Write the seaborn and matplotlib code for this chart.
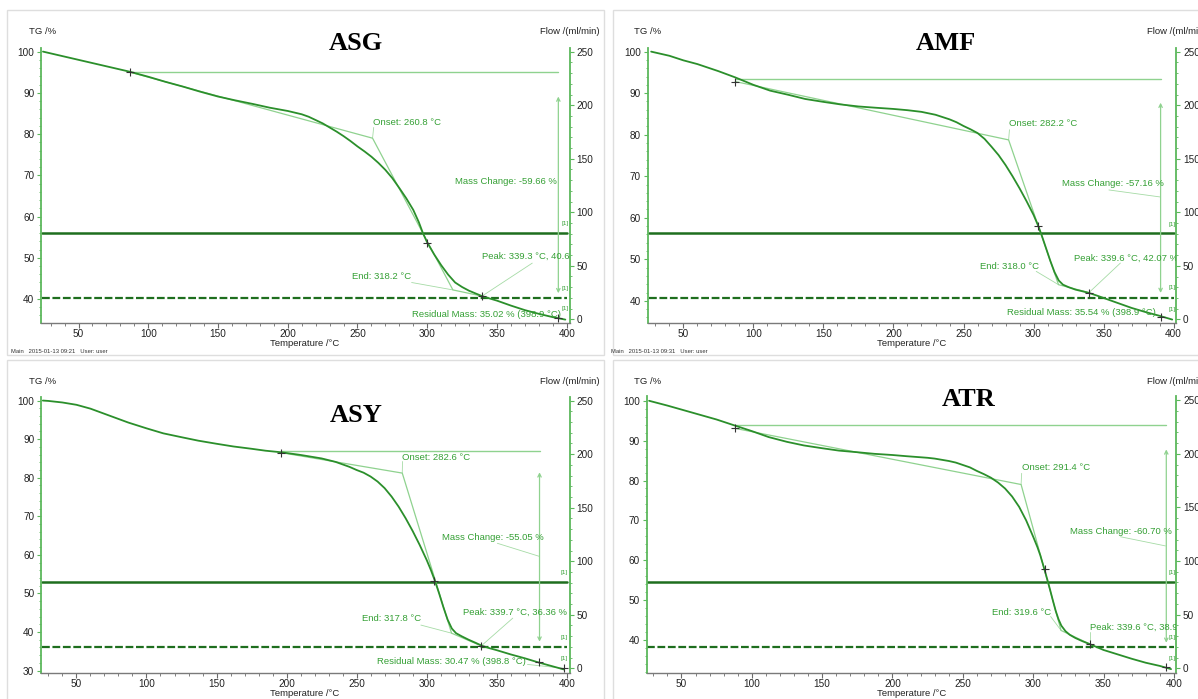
import matplotlib
matplotlib.use("Agg")
import matplotlib.pyplot as plt
from matplotlib.patches import Rectangle
from matplotlib.ticker import MultipleLocator
import seaborn as sns

sns.set_theme(style="white")
plt.rcParams['font.family'] = ['Liberation Sans', 'DejaVu Sans']

W, H = 1198, 699

# ---------------- data ----------------
# ASG
asg_temp = [24.5, 50, 87, 100, 112, 125, 137, 150, 162, 175, 187, 200, 205, 210, 215, 220, 225, 230,
            235, 240, 245, 250, 255, 260, 265, 270, 275, 280, 285, 290, 294, 297, 300, 305, 310, 315,
            320, 325, 330, 335, 339.3, 345, 350, 360, 370, 380, 390, 399]
asg_tg = [100, 98.0, 95.1, 93.9, 92.7, 91.5, 90.3, 89.1, 88.2, 87.3, 86.4, 85.6, 85.2, 84.8, 84.2, 83.4,
          82.6, 81.6, 80.6, 79.5, 78.3, 77.0, 75.8, 74.5, 73.0, 71.3, 69.3, 66.9, 64.4, 61.6, 58.6, 55.9,
          53.7, 50.8, 48.2, 45.9, 44.0, 42.9, 42.0, 41.3, 40.7, 40.1, 39.6, 38.4, 37.3, 36.4, 35.6, 35.0]
asg_flow = [80.9, 20.2]
asg_marks_t = [87, 300, 339.3, 394]
asg_marks_tg = [95.0, 53.7, 40.7, 35.3]
asg_onset = [260.8, 79.0]
asg_end = [318.4, 42.2]
asg_step = [95.1, 394, 89.1, 41.4]      # level, arrow T, arrow top, arrow bottom
asg_labels = ["Onset: 260.8 °C", "Mass Change: -59.66 %", "End: 318.2 °C",
              "Peak: 339.3 °C, 40.62 %", "Residual Mass: 35.02 % (398.9 °C)"]

# AMF
amf_temp = [27, 40, 50, 60, 75, 87, 100, 112, 125, 137, 150, 162, 175, 187, 200, 210, 220, 230, 240,
            245, 250, 255, 260, 265, 270, 275, 280, 285, 290, 295, 300, 303.3, 306, 309, 312, 315, 318,
            321, 325, 330, 335, 339.6, 345, 350, 360, 370, 380, 390, 399]
amf_tg = [100, 99.0, 97.9, 97.0, 95.3, 93.8, 92.0, 90.6, 89.6, 88.6, 87.9, 87.3, 86.8, 86.5, 86.2, 85.9,
          85.5, 84.8, 83.7, 83.0, 82.1, 81.3, 80.4, 79.0, 77.1, 75.1, 72.7, 70.0, 67.1, 64.0, 60.7, 58.1,
          55.6, 52.6, 49.6, 46.9, 44.9, 43.9, 43.3, 42.7, 42.3, 41.9, 41.3, 40.7, 39.5, 38.3, 37.3, 36.4, 35.5]
amf_flow = [80.3, 19.6]
amf_marks_t = [87, 303.3, 339.6, 390.7]
amf_marks_tg = [92.8, 58.1, 42.0, 36.2]
amf_onset = [282.2, 78.75]
amf_end = [317.8, 43.9]
amf_step = [93.5, 390.7, 87.7, 41.9]
amf_labels = ["Onset: 282.2 °C", "Mass Change: -57.16 %", "End: 318.0 °C",
              "Peak: 339.6 °C, 42.07 %", "Residual Mass: 35.54 % (398.9 °C)"]

# ASY
asy_temp = [26, 30, 40, 50, 60, 75, 87, 100, 112, 125, 137, 150, 162, 175, 185, 196, 210, 225, 235, 245,
            250, 255, 260, 265, 270, 275, 280, 285, 290, 295, 300, 303, 306, 309, 312, 315, 318, 321,
            325, 330, 335, 339.7, 345, 350, 360, 370, 380, 390, 398]
asy_tg = [100, 99.9, 99.5, 98.9, 97.9, 95.9, 94.3, 92.8, 91.5, 90.5, 89.6, 88.8, 88.1, 87.5, 87.0, 86.6,
          85.9, 85.0, 84.1, 82.8, 82.0, 81.3, 80.3, 79.0, 77.3, 75.1, 72.5, 69.5, 66.2, 62.6, 58.7, 56.1,
          53.2, 49.9, 46.4, 43.2, 40.9, 39.7, 38.9, 38.0, 37.2, 36.4, 35.8, 35.3, 34.2, 33.2, 32.1, 31.1, 30.3]
asy_flow = [80.2, 20.0]
asy_marks_t = [196, 305.5, 339.0, 380, 397.8]
asy_marks_tg = [86.5, 53.3, 36.4, 32.1, 30.6]
asy_onset = [282.6, 81.2]
asy_end = [317.8, 39.7]
asy_step = [87.0, 380.6, 81.4, 37.5]
asy_labels = ["Onset: 282.6 °C", "Mass Change: -55.05 %", "End: 317.8 °C",
              "Peak: 339.7 °C, 36.36 %", "Residual Mass: 30.47 % (398.8 °C)"]

# ATR
atr_temp = [27, 40, 50, 62, 75, 87, 100, 112, 125, 137, 150, 162, 175, 187, 200, 210, 225, 230, 240,
            245, 250, 255, 260, 265, 270, 275, 280, 285, 290, 295, 300, 303, 305, 308, 310, 312, 314,
            316, 318, 320, 323, 326, 330, 335, 340, 350, 360, 370, 380, 390, 398]
atr_tg = [100, 98.8, 97.8, 96.6, 95.3, 93.9, 92.4, 90.9, 89.7, 88.8, 88.1, 87.5, 87.1, 86.7, 86.4, 86.1,
          85.7, 85.5, 84.9, 84.5, 83.9, 83.3, 82.4, 81.6, 80.7, 79.5, 78.0, 76.0, 73.4, 70.0, 65.9, 63.3,
          61.3, 57.7, 55.2, 52.6, 49.9, 47.3, 45.2, 43.6, 42.2, 41.3, 40.5, 39.7, 39.0, 37.5, 36.4, 35.3,
          34.3, 33.5, 32.7]
atr_flow = [80.2, 19.6]
atr_marks_t = [87.8, 308.1, 340.2, 394.6]
atr_marks_tg = [93.1, 57.7, 39.0, 33.2]
atr_onset = [291.4, 79.0]
atr_end = [319.8, 42.4]
atr_step = [93.9, 394.6, 87.8, 39.3]
atr_labels = ["Onset: 291.4 °C", "Mass Change: -60.70 %", "End: 319.6 °C",
              "Peak: 339.6 °C, 38.93 %", None]

titles = ["ASG", "AMF", "ASY", "ATR"]
stamps = ["Main   2015-01-13 09:21   User: user", "Main   2015-01-13 09:31   User: user", None, None]

# ---------------- styling ----------------
curve_c = "#2b8f2b"
flow_c = "#1e6e1e"
light_c = "#8fd28f"
text_c = "#35a035"
spine_c = "#5cb85c"
mark_c = "#333333"


def px_rect(l, r, t, b):
    return [l / W, 1 - b / H, (r - l) / W, (b - t) / H]


fig = plt.figure(figsize=(W / 100, H / 100), dpi=100)
fig.patch.set_facecolor("white")

# screenshot frames
for (l, t, r, b) in [(7, 10, 604, 355), (613, 10, 1230, 355), (7, 360, 604, 720), (613, 360, 1230, 720)]:
    fig.patches.append(Rectangle((l / W, 1 - b / H), (r - l) / W, (b - t) / H, transform=fig.transFigure,
                                 fill=False, edgecolor="#dedede", linewidth=1.0))

panels = [
    dict(rect=px_rect(41.3, 569.5, 48.3, 322.7), xlim=(23.3, 402), tglim=(34.25, 100.8), flowlim=(-3.2, 253.2),
         ymin=40, temp=asg_temp, tg=asg_tg, flow=asg_flow, mt=asg_marks_t, mtg=asg_marks_tg,
         onset=asg_onset, end=asg_end, step=asg_step, labels=asg_labels,
         pos=[(261.4, 82.9, "left"), (393, 68.5, "right"), (288.8, 45.4, "right"), (339.0, 50.3, "left"),
              (288.8, 36.3, "left")],
         leaders=[((260.8, 79.0), (261.6, 81.6)), ((288.8, 44.0), (318.4, 42.2)), ((339.3, 40.7), (375.3, 48.7))],
         tags=[(398.6, 58.4), (398.6, 42.6), (398.6, 37.8)],
         title=(356, 43), tg_lab=(29, 31), flow_lab=(540, 31), xlab=(305, 342), stamp=(11, 351)),
    dict(rect=px_rect(647.8, 1176, 48.3, 323.3), xlim=(24.6, 401.7), tglim=(34.6, 100.8), flowlim=(-3.7, 253.2),
         ymin=40, temp=amf_temp, tg=amf_tg, flow=amf_flow, mt=amf_marks_t, mtg=amf_marks_tg,
         onset=amf_onset, end=amf_end, step=amf_step, labels=amf_labels,
         pos=[(282.8, 82.6, "left"), (393.4, 68.2, "right"), (304.1, 48.3, "right"), (329.2, 50.3, "left"),
              (280.9, 37.2, "left")],
         leaders=[((282.2, 78.75), (282.8, 81.2)), ((353.8, 66.7), (390.7, 65.0)),
                  ((301.9, 47.1), (317.8, 43.9)), ((339.6, 42.0), (362.0, 49.1))],
         tags=[(398.9, 58.5), (398.9, 43.1), (398.9, 37.9)],
         title=(946, 43), tg_lab=(634, 31), flow_lab=(1147, 31), xlab=(912, 342), stamp=(611, 351)),
    dict(rect=px_rect(41.3, 569.5, 396.7, 673.3), xlim=(24.9, 402), tglim=(29.3, 101.0), flowlim=(-4.7, 253.7),
         ymin=30, temp=asy_temp, tg=asy_tg, flow=asy_flow, mt=asy_marks_t, mtg=asy_marks_tg,
         onset=asy_onset, end=asy_end, step=asy_step, labels=asy_labels,
         pos=[(282.2, 85.3, "left"), (383.3, 64.5, "right"), (295.9, 43.6, "right"), (326.0, 45.0, "left"),
              (264.5, 32.3, "left")],
         leaders=[((282.6, 81.2), (282.8, 84.2)), ((350.5, 63.0), (380.6, 59.6)),
                  ((295.9, 41.8), (317.8, 39.7)), ((339.0, 36.4), (361.5, 43.6)), ((372, 31.6), (397.8, 30.6))],
         tags=[(398.4, 55.5), (398.4, 38.6), (398.4, 33.2)],
         title=(356, 415), tg_lab=(29, 381), flow_lab=(540, 381), xlab=(305, 692), stamp=None),
    dict(rect=px_rect(646.7, 1176, 396, 673.3), xlim=(25.3, 401.5), tglim=(31.65, 101.2), flowlim=(-4.7, 253.9),
         ymin=40, temp=atr_temp, tg=atr_tg, flow=atr_flow, mt=atr_marks_t, mtg=atr_marks_tg,
         onset=atr_onset, end=atr_end, step=atr_step, labels=atr_labels,
         pos=[(291.8, 83.2, "left"), (398.7, 67.3, "right"), (312.4, 47.0, "right"), (340.2, 43.1, "left"), None],
         leaders=[((291.4, 79.0), (291.8, 81.8)), ((362.0, 65.9), (394.0, 63.6)),
                  ((312.4, 45.9), (319.8, 42.4)), ((340.2, 39.0), (340.2, 41.9))],
         tags=[(398.7, 57.0), (398.7, 40.7), (398.7, 35.4)],
         title=(969, 399), tg_lab=(634, 381), flow_lab=(1147, 381), xlab=(912, 692), stamp=None),
]

for i, p in enumerate(panels):
    ax = fig.add_axes(p["rect"])
    ax2 = ax.twinx()
    ax.set_zorder(ax2.get_zorder() + 1)
    ax.patch.set_visible(False)

    # flow channels (right axis)
    x0, x1 = p["xlim"][0] + 0.5, p["xlim"][1] - 1.5
    sns.lineplot(x=[x0, x1], y=[p["flow"][0]] * 2, ax=ax2, color=flow_c, linewidth=1.8)
    ln = sns.lineplot(x=[x0, x1], y=[p["flow"][1]] * 2, ax=ax2, color=flow_c, linewidth=1.6)
    ln.lines[-1].set_dashes([3.5, 1.2])

    # evaluation construction lines
    lev, at, atop, abot = p["step"]
    ax.plot([p["mt"][0], at], [lev, lev], color=light_c, lw=1.0)
    ax.annotate("", xy=(at, abot), xytext=(at, atop),
                arrowprops=dict(arrowstyle="<->", color=light_c, lw=0.9, shrinkA=0, shrinkB=0,
                                mutation_scale=6))
    ax.plot([p["mt"][0], p["onset"][0], p["end"][0], p["mt"][2]],
            [p["mtg"][0], p["onset"][1], p["end"][1], p["mtg"][2]], color=light_c, lw=0.9)
    for (a, b) in p["leaders"]:
        ax.plot([a[0], b[0]], [a[1], b[1]], color=light_c, lw=0.6, alpha=0.8)

    # TG curve
    sns.lineplot(x=p["temp"], y=p["tg"], ax=ax, color=curve_c, linewidth=1.3, sort=False, estimator=None)
    ax.scatter(p["mt"], p["mtg"], marker="+", s=30, color=mark_c, linewidths=0.8, zorder=5)

    # annotation texts
    for lab, pos in zip(p["labels"], p["pos"]):
        if lab is None:
            continue
        ax.text(pos[0], pos[1], lab, ha=pos[2], va="center", fontsize=6.8, color=text_c, clip_on=True)
    for (tx, ty) in p["tags"]:
        ax.text(tx, ty, "[1]", ha="center", va="center", fontsize=4.5, color=text_c)

    # axes
    ax.set_xlim(*p["xlim"])
    ax.xaxis.set_major_locator(MultipleLocator(50))
    ax.xaxis.set_minor_locator(MultipleLocator(10))
    ax.set_yticks(list(range(p["ymin"], 101, 10)))
    ax.yaxis.set_minor_locator(MultipleLocator(2))
    ax2.set_yticks([0, 50, 100, 150, 200, 250])
    ax2.yaxis.set_minor_locator(MultipleLocator(10))
    ax.set_ylim(*p["tglim"])
    ax2.set_ylim(*p["flowlim"])
    ax.set_xlabel("")
    ax.set_ylabel("")
    ax2.set_ylabel("")

    for a in (ax, ax2):
        for s in a.spines.values():
            s.set_visible(False)
    ax.spines["left"].set_visible(True)
    ax.spines["left"].set_color(spine_c)
    ax.spines["left"].set_linewidth(1.3)
    ax.spines["bottom"].set_visible(True)
    ax.spines["bottom"].set_color("#7a7a7a")
    ax.spines["bottom"].set_linewidth(1.0)
    ax2.spines["right"].set_visible(True)
    ax2.spines["right"].set_color(spine_c)
    ax2.spines["right"].set_linewidth(1.3)

    ax.tick_params(axis="x", which="major", direction="out", length=3.5, width=0.8, color="#6a6a6a",
                   labelsize=7.2, labelcolor="#222222", pad=0.8, bottom=True)
    ax.tick_params(axis="x", which="minor", direction="out", length=2, width=0.6, color="#6a6a6a", bottom=True)
    ax.tick_params(axis="y", which="major", direction="out", length=3, width=0.8, color=spine_c,
                   labelsize=7.2, labelcolor="#222222", pad=2, left=True)
    ax.tick_params(axis="y", which="minor", direction="out", length=1.5, width=0.6, color=spine_c, left=True)
    ax2.tick_params(axis="y", which="major", direction="out", length=3, width=0.8, color=spine_c,
                    labelsize=7.2, labelcolor="#222222", pad=2, right=True)
    ax2.tick_params(axis="y", which="minor", direction="out", length=1.5, width=0.6, color=spine_c, right=True)

    # panel texts
    fig.text(p["title"][0] / W, 1 - p["title"][1] / H, titles[i], ha="center", va="center",
             fontsize=19, fontweight="bold", family=["Liberation Serif", "DejaVu Serif"], color="black")
    fig.text(p["tg_lab"][0] / W, 1 - p["tg_lab"][1] / H, "TG /%", ha="left", va="center",
             fontsize=6.8, color="#222222")
    fig.text(p["flow_lab"][0] / W, 1 - p["flow_lab"][1] / H, "Flow /(ml/min)", ha="left", va="center",
             fontsize=6.8, color="#222222")
    fig.text(p["xlab"][0] / W, 1 - (p["xlab"][1] + 1) / H, "Temperature /°C", ha="center", va="center",
             fontsize=6.8, color="#222222")
    if stamps[i] is not None:
        fig.text(p["stamp"][0] / W, 1 - p["stamp"][1] / H, stamps[i], ha="left", va="center",
                 fontsize=4.2, color="#333333")

fig.savefig("out.png", dpi=100)
